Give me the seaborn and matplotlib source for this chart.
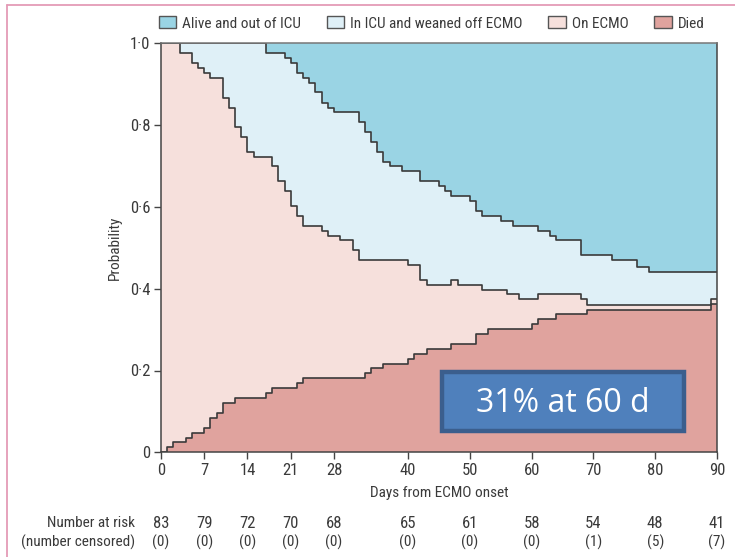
import numpy as np
import matplotlib
matplotlib.use("Agg")
import matplotlib.pyplot as plt
import matplotlib.transforms as mtransforms
from matplotlib.patches import Patch, Rectangle
from matplotlib.lines import Line2D
import seaborn as sns

# ---------------- data ----------------
died_days = [0, 1, 2, 4, 5, 7, 8, 9, 10, 12, 17, 18, 22, 23, 33, 34, 36, 40, 41, 43,
             47, 51, 53, 60, 61, 64, 69, 89, 90]
died_prob = [0.0, 0.012, 0.024, 0.036, 0.048, 0.060, 0.084, 0.096, 0.120, 0.133, 0.145,
             0.157, 0.169, 0.181, 0.193, 0.205, 0.217, 0.229, 0.241, 0.253,
             0.265, 0.289, 0.301, 0.313, 0.325, 0.337, 0.349, 0.363, 0.363]

ecmo_days = [0, 3, 5, 6, 7, 8, 10, 11, 12, 13, 14, 15, 18, 19, 20, 21, 22, 23, 26, 27,
             29, 31, 32, 40, 42, 43, 47, 48, 52, 56, 58, 61, 68, 69, 89, 90]
ecmo_prob = [1.0, 0.976, 0.952, 0.940, 0.928, 0.916, 0.867, 0.843, 0.795, 0.771, 0.735,
             0.723, 0.699, 0.663, 0.639, 0.602, 0.578, 0.554, 0.542, 0.530,
             0.518, 0.494, 0.470, 0.458, 0.422, 0.410, 0.422, 0.410, 0.398, 0.386,
             0.374, 0.386, 0.374, 0.361, 0.376, 0.376]

icu_days = [0, 17, 20, 21, 22, 23, 24, 25, 26, 27, 28, 32, 33, 34, 35, 36, 37, 39, 42,
            45, 46, 47, 50, 51, 52, 55, 57, 61, 63, 64, 68, 73, 77, 79, 90]
icu_prob = [1.0, 0.976, 0.964, 0.952, 0.928, 0.916, 0.904, 0.880, 0.855, 0.843, 0.831,
            0.807, 0.783, 0.759, 0.735, 0.711, 0.699, 0.687, 0.663,
            0.651, 0.639, 0.627, 0.614, 0.590, 0.578, 0.566, 0.554, 0.542, 0.530,
            0.518, 0.482, 0.470, 0.452, 0.440, 0.440]

x_ticks = [0, 7, 14, 21, 28, 40, 50, 60, 70, 80, 90]
at_risk = [83, 79, 72, 70, 68, 65, 61, 58, 54, 48, 41]
censored = [0, 0, 0, 0, 0, 0, 0, 0, 1, 5, 7]
y_ticks = [0, 0.2, 0.4, 0.6, 0.8, 1.0]
y_tick_labels = ["0", "0·2", "0·4", "0·6", "0·8", "1·0"]

state_labels = ["Alive and out of ICU", "In ICU and weaned off ECMO", "On ECMO", "Died"]
state_colors = ["#9AD4E4", "#DFF0F7", "#F6E0DC", "#E0A39E"]
callout_text = "31% at 60 d"

# ---------------- style ----------------
sns.set_style("ticks")
plt.rcParams["font.family"] = ["Liberation Sans Narrow", "Roboto Condensed",
                               "Liberation Sans", "DejaVu Sans"]
TXT = "#3a3a3a"
LINE = "#3a3a3a"
FS = 11

fig = plt.figure(figsize=(7.35, 5.57), dpi=100)
ax = fig.add_axes([161 / 735, 1 - 452.3 / 557, (717 - 161) / 735, (452.3 - 43.3) / 557])


def step_eval(days, probs, grid):
    idx = np.searchsorted(np.asarray(days), grid, side="right") - 1
    return np.asarray(probs)[idx]


grid = np.unique(np.concatenate([died_days, ecmo_days, icu_days]).astype(float))
d = step_eval(died_days, died_prob, grid)
e = step_eval(ecmo_days, ecmo_prob, grid)
i = step_eval(icu_days, icu_prob, grid)

ax.fill_between(grid, i, 1.0, step="post", color=state_colors[0], lw=0)
ax.fill_between(grid, e, i, step="post", color=state_colors[1], lw=0)
ax.fill_between(grid, d, e, step="post", color=state_colors[2], lw=0)
ax.fill_between(grid, 0, d, step="post", color=state_colors[3], lw=0)

for days, probs in [(died_days, died_prob), (ecmo_days, ecmo_prob), (icu_days, icu_prob)]:
    sns.lineplot(x=days, y=probs, drawstyle="steps-post", color=LINE, lw=1.2,
                 legend=False, ax=ax, sort=False)

ax.set_xlim(0, 90)
ax.set_ylim(0, 1.0)
ax.set_xticks(x_ticks)
ax.set_xticklabels([str(t) for t in x_ticks])
ax.set_yticks(y_ticks)
ax.set_yticklabels(y_tick_labels)
ax.tick_params(direction="out", length=5, width=1, color="#444444",
               labelsize=FS + 1, labelcolor=TXT, pad=2.5)
for s in ["left", "bottom", "right"]:
    ax.spines[s].set_color("#444444")
    ax.spines[s].set_linewidth(1.1)
ax.spines["top"].set_color("#777777")
ax.spines["top"].set_linewidth(1.1)

ax.set_xlabel("Days from ECMO onset", fontsize=FS, color=TXT, labelpad=6)
ax.set_ylabel("Probability", fontsize=FS, color=TXT, labelpad=6)

# callout box
ax.add_patch(Rectangle(((442 - 161) / 556, (452.3 - 431) / 409), (684 - 442) / 556,
                       (431 - 372) / 409, transform=ax.transAxes,
                       facecolor="#4F80BC", edgecolor="#3B5E8D", lw=3.2, zorder=5))
ax.text((563 - 161) / 556, (452.3 - 403) / 409, callout_text, transform=ax.transAxes,
        ha="center", va="center", color="white", fontsize=23,
        family=["Open Sans", "DejaVu Sans"], zorder=6)

# legend
handles = [Patch(facecolor=c, edgecolor="#555555", lw=1) for c in state_colors]
fig.legend(handles, state_labels, ncol=4, loc="center",
           bbox_to_anchor=(431.5 / 735, 1 - 23.5 / 557),
           frameon=False, fontsize=FS, handlelength=1.15, handleheight=0.8,
           handletextpad=0.37, columnspacing=1.7, labelcolor=TXT)

# number at risk table
trans = mtransforms.blended_transform_factory(ax.transData, fig.transFigure)
y1 = 1 - 523 / 557
y2 = 1 - 542 / 557
fig.text(135 / 735, y1, "Number at risk", ha="right", va="center", fontsize=FS, color=TXT)
fig.text(135 / 735, y2, "(number censored)", ha="right", va="center", fontsize=FS, color=TXT)
for t, n, c in zip(x_ticks, at_risk, censored):
    ax.text(t, y1, str(n), transform=trans, ha="center", va="center", fontsize=FS + 1,
            color=TXT, clip_on=False)
    ax.text(t, y2, f"({c})", transform=trans, ha="center", va="center", fontsize=FS,
            color=TXT, clip_on=False)

# pink page frame
fig.add_artist(Line2D([7 / 735, 1.0], [1 - 5 / 557, 1 - 5 / 557], transform=fig.transFigure,
                      color="#E49BB6", lw=1.3))
fig.add_artist(Line2D([7 / 735, 7 / 735], [0, 1 - 5 / 557], transform=fig.transFigure,
                      color="#E49BB6", lw=1.3))

fig.savefig("out.png", dpi=100)
